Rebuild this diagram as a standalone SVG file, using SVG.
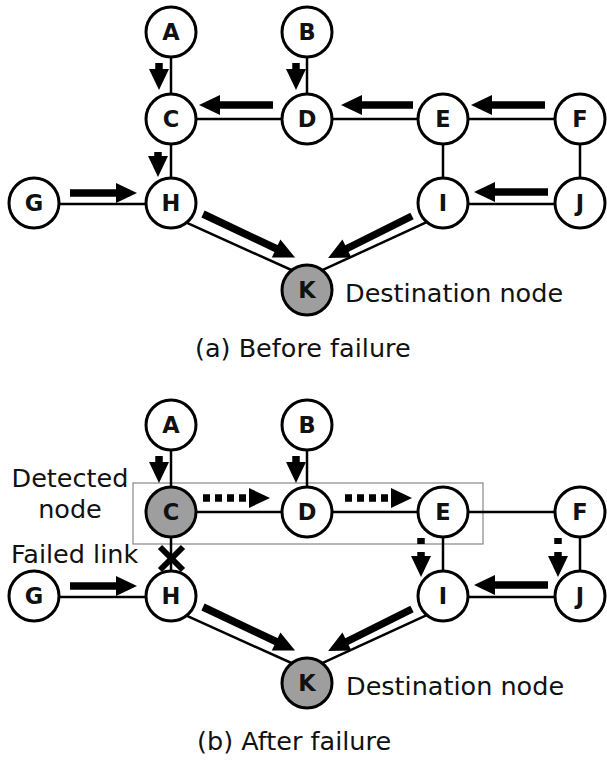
<svg xmlns="http://www.w3.org/2000/svg" width="607" height="761" viewBox="0 0 607 761">
<style>
.edge{stroke:#000;stroke-width:2.5;fill:none}
.node circle{fill:#fff;stroke:#000;stroke-width:3}
.node.gray circle{fill:#9e9e9e}
.node text{font-family:"DejaVu Sans","Verdana",sans-serif;font-weight:bold;font-size:22.5px;text-anchor:middle;fill:#111}
.arr{stroke:#000;stroke-width:7.5;fill:none;marker-end:url(#ah)}
.dh{stroke-dasharray:7 5}
.dv{stroke-dasharray:6 8}
.lbl{font-family:"DejaVu Sans","Verdana",sans-serif;font-size:25.5px;fill:#111}
</style>
<defs>
<marker id="ah" markerUnits="userSpaceOnUse" markerWidth="22" markerHeight="20" refX="1" refY="10" orient="auto" overflow="visible">
<path d="M0,0 L21,10 L0,20 Z" fill="#000"/>
</marker>
</defs>
<rect width="607" height="761" fill="#fff"/>

<!-- (a) Before failure -->
<g id="edges-a">
<line class="edge" x1="171" y1="32" x2="171" y2="119"/>
<line class="edge" x1="307" y1="32" x2="307" y2="119"/>
<line class="edge" x1="171" y1="119" x2="580" y2="119"/>
<line class="edge" x1="171" y1="119" x2="171" y2="203"/>
<line class="edge" x1="34" y1="204" x2="171" y2="204"/>
<line class="edge" x1="443" y1="119" x2="443" y2="203"/>
<line class="edge" x1="580" y1="119" x2="580" y2="203"/>
<line class="edge" x1="443" y1="204" x2="580" y2="204"/>
<line class="edge" x1="171" y1="215.7" x2="307" y2="277"/>
<line class="edge" x1="443" y1="214.7" x2="307" y2="277.2"/>
</g>
<g id="arrows-a">
<line class="arr" x1="159" y1="63" x2="159" y2="70"/>
<line class="arr" x1="296" y1="63" x2="296" y2="70"/>
<line class="arr" x1="158" y1="152" x2="158" y2="157"/>
<line class="arr" x1="273" y1="105" x2="219" y2="105"/>
<line class="arr" x1="413" y1="105" x2="361" y2="105"/>
<line class="arr" x1="545" y1="105" x2="491" y2="105"/>
<line class="arr" x1="70" y1="193" x2="117" y2="193"/>
<line class="arr" x1="548" y1="192" x2="494" y2="192"/>
<line class="arr" x1="203" y1="214" x2="277" y2="249"/>
<line class="arr" x1="412" y1="216" x2="346" y2="249"/>
</g>
<g id="a-A" class="node"><circle cx="171" cy="32" r="25"/><text x="171" y="40">A</text></g>
<g id="a-B" class="node"><circle cx="307" cy="32" r="25"/><text x="307" y="40">B</text></g>
<g id="a-C" class="node"><circle cx="171" cy="119" r="25"/><text x="171" y="127">C</text></g>
<g id="a-D" class="node"><circle cx="307" cy="119" r="25"/><text x="307" y="127">D</text></g>
<g id="a-E" class="node"><circle cx="443" cy="119" r="25"/><text x="443" y="127">E</text></g>
<g id="a-F" class="node"><circle cx="580" cy="119" r="25"/><text x="580" y="127">F</text></g>
<g id="a-G" class="node"><circle cx="34" cy="203" r="25"/><text x="34" y="211">G</text></g>
<g id="a-H" class="node"><circle cx="171" cy="203" r="25"/><text x="171" y="211">H</text></g>
<g id="a-I" class="node"><circle cx="443" cy="203" r="25"/><text x="443" y="211">I</text></g>
<g id="a-J" class="node"><circle cx="580" cy="203" r="25"/><text x="580" y="211">J</text></g>
<g id="a-K" class="node gray"><circle cx="307" cy="290" r="25"/><text x="307" y="298">K</text></g>
<text class="lbl" x="345" y="302">Destination node</text>
<text class="lbl" x="195" y="357">(a) Before failure</text>

<!-- (b) After failure -->
<rect x="133" y="483" width="350" height="61" fill="none" stroke="#888" stroke-width="1.2"/>
<g id="edges-b">
<line class="edge" x1="171" y1="425" x2="171" y2="512"/>
<line class="edge" x1="307" y1="425" x2="307" y2="512"/>
<line class="edge" x1="171" y1="512" x2="580" y2="512"/>
<line class="edge" x1="171" y1="512" x2="171" y2="596"/>
<line class="edge" x1="34" y1="597" x2="171" y2="597"/>
<line class="edge" x1="443" y1="512" x2="443" y2="596"/>
<line class="edge" x1="580" y1="512" x2="580" y2="596"/>
<line class="edge" x1="443" y1="597" x2="580" y2="597"/>
<line class="edge" x1="171" y1="608.7" x2="307" y2="670"/>
<line class="edge" x1="443" y1="607.7" x2="307" y2="670.2"/>
</g>
<g id="arrows-b">
<line class="arr" x1="159" y1="456" x2="159" y2="463"/>
<line class="arr" x1="296" y1="456" x2="296" y2="463"/>
<line class="arr dh" x1="203" y1="498" x2="250" y2="498"/>
<line class="arr dh" x1="345" y1="498" x2="392" y2="498"/>
<line class="arr dv" x1="421" y1="538" x2="421" y2="557"/>
<line class="arr dv" x1="558" y1="538" x2="558" y2="557"/>
<line class="arr" x1="70" y1="586" x2="117" y2="586"/>
<line class="arr" x1="548" y1="585" x2="494" y2="585"/>
<line class="arr" x1="203" y1="607" x2="277" y2="642"/>
<line class="arr" x1="412" y1="609" x2="346" y2="642"/>
</g>
<g id="b-A" class="node"><circle cx="171" cy="425" r="25"/><text x="171" y="433">A</text></g>
<g id="b-B" class="node"><circle cx="307" cy="425" r="25"/><text x="307" y="433">B</text></g>
<g id="b-C" class="node gray"><circle cx="171" cy="512" r="25"/><text x="171" y="520">C</text></g>
<g id="b-D" class="node"><circle cx="307" cy="512" r="25"/><text x="307" y="520">D</text></g>
<g id="b-E" class="node"><circle cx="443" cy="512" r="25"/><text x="443" y="520">E</text></g>
<g id="b-F" class="node"><circle cx="580" cy="512" r="25"/><text x="580" y="520">F</text></g>
<g id="b-G" class="node"><circle cx="34" cy="596" r="25"/><text x="34" y="604">G</text></g>
<g id="b-H" class="node"><circle cx="171" cy="596" r="25"/><text x="171" y="604">H</text></g>
<g id="b-I" class="node"><circle cx="443" cy="596" r="25"/><text x="443" y="604">I</text></g>
<g id="b-J" class="node"><circle cx="580" cy="596" r="25"/><text x="580" y="604">J</text></g>
<g id="b-K" class="node gray"><circle cx="307" cy="683" r="25"/><text x="307" y="691">K</text></g>
<g id="failed-x" stroke="#000" stroke-width="6">
<line x1="160" y1="547" x2="183" y2="570"/>
<line x1="183" y1="547" x2="160" y2="570"/>
</g>
<text class="lbl" x="70" y="487" text-anchor="middle">Detected</text>
<text class="lbl" x="70" y="518" text-anchor="middle">node</text>
<text class="lbl" x="11" y="563">Failed link</text>
<text class="lbl" x="346" y="695">Destination node</text>
<text class="lbl" x="197" y="750">(b) After failure</text>
</svg>
